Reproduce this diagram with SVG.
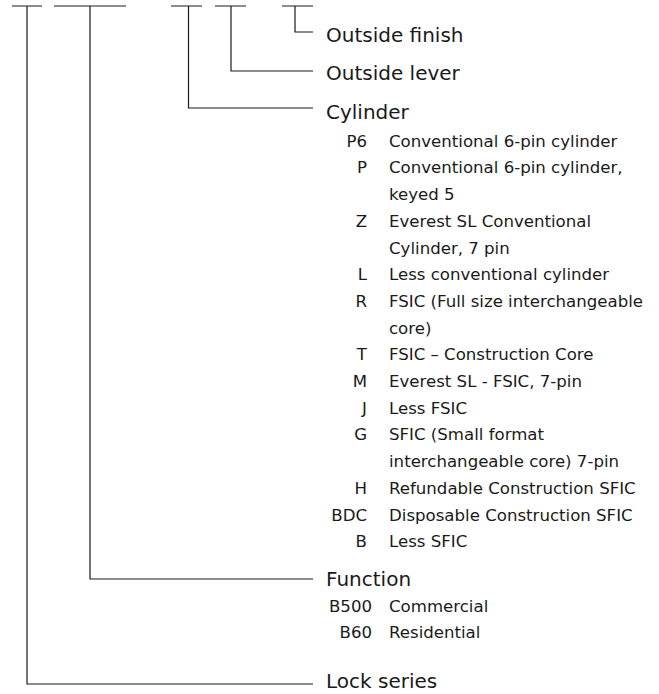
<svg xmlns="http://www.w3.org/2000/svg" width="659" height="694" viewBox="0 0 659 694">
<style>
.ln{fill:none;stroke:#1a1a1a;stroke-width:1.2}
.h{font-family:"DejaVu Sans",sans-serif;font-size:20px;fill:#1a1a1a}
.t{font-family:"DejaVu Sans",sans-serif;font-size:16.6px;fill:#1a1a1a}
.c{text-anchor:end}
</style>
<rect width="659" height="694" fill="#fff"/>
<g id="connectors">
<path class="ln" d="M12,6H42M27,6V684H313"/>
<path class="ln" d="M54,6H126M90,6V579H313"/>
<path class="ln" d="M171,6H202M188.5,6V108H313"/>
<path class="ln" d="M215,6H246M231,6V71H313"/>
<path class="ln" d="M282,6H313M295,6V32H313"/>
</g>
<g id="outside-finish"><text class="h" x="326" y="41.7">Outside finish</text></g>
<g id="outside-lever"><text class="h" x="326" y="80">Outside lever</text></g>
<g id="cylinder">
<text class="h" x="326" y="119">Cylinder</text>
<text class="t c" x="367" y="146.7">P6</text><text class="t" x="389" y="146.7">Conventional 6-pin cylinder</text>
<text class="t c" x="367" y="173.4">P</text><text class="t" x="389" y="173.4">Conventional 6-pin cylinder,</text>
<text class="t" x="389" y="200.1">keyed 5</text>
<text class="t c" x="367" y="226.8">Z</text><text class="t" x="389" y="226.8">Everest SL Conventional</text>
<text class="t" x="389" y="253.5">Cylinder, 7 pin</text>
<text class="t c" x="367" y="280.2">L</text><text class="t" x="389" y="280.2">Less conventional cylinder</text>
<text class="t c" x="367" y="306.9">R</text><text class="t" x="389" y="306.9">FSIC (Full size interchangeable</text>
<text class="t" x="389" y="333.6">core)</text>
<text class="t c" x="367" y="360.3">T</text><text class="t" x="389" y="360.3">FSIC – Construction Core</text>
<text class="t c" x="367" y="387">M</text><text class="t" x="389" y="387">Everest SL - FSIC, 7-pin</text>
<text class="t c" x="367" y="413.7">J</text><text class="t" x="389" y="413.7">Less FSIC</text>
<text class="t c" x="367" y="440.4">G</text><text class="t" x="389" y="440.4">SFIC (Small format</text>
<text class="t" x="389" y="467.1">interchangeable core) 7-pin</text>
<text class="t c" x="367" y="493.8">H</text><text class="t" x="389" y="493.8">Refundable Construction SFIC</text>
<text class="t c" x="367" y="520.5">BDC</text><text class="t" x="389" y="520.5">Disposable Construction SFIC</text>
<text class="t c" x="367" y="547.2">B</text><text class="t" x="389" y="547.2">Less SFIC</text>
</g>
<g id="function">
<text class="h" x="326" y="586">Function</text>
<text class="t c" x="372" y="612.3">B500</text><text class="t" x="389" y="612.3">Commercial</text>
<text class="t c" x="372" y="638.3">B60</text><text class="t" x="389" y="638.3">Residential</text>
</g>
<g id="lock-series"><text class="h" x="326" y="688.3">Lock series</text></g>
</svg>
